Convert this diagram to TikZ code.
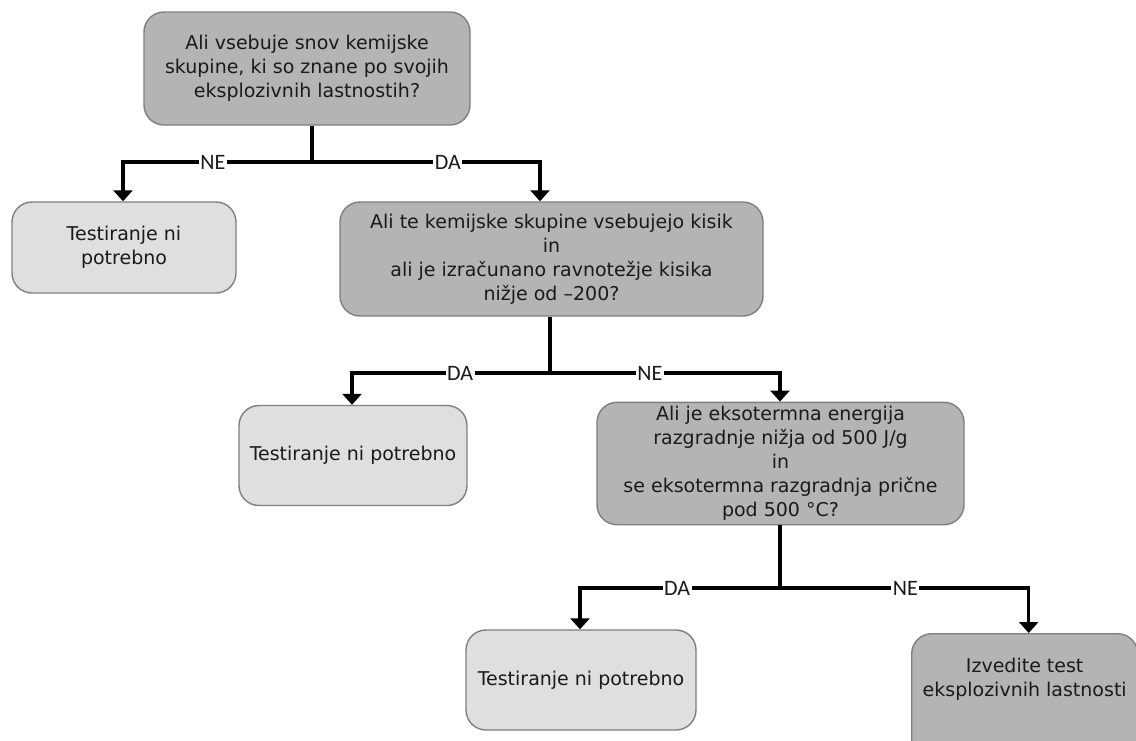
\documentclass[tikz,border=0pt]{standalone}
\usepackage{fontspec}
\setmainfont{DejaVu Sans}
\newfontfamily\labelfont{Carlito}
\usetikzlibrary{arrows.meta}

\definecolor{qfill}{HTML}{B4B4B4}
\definecolor{afill}{HTML}{DFDFDF}
\definecolor{edge}{HTML}{7F7F7F}
\definecolor{ink}{HTML}{1A1A1A}

\tikzset{
  boxbase/.style={draw=edge, line width=1.4pt, rounded corners=20pt, align=center,
    text=ink, font=\fontsize{19}{24}\selectfont, inner sep=4pt},
  question/.style={boxbase, fill=qfill},
  answer/.style={boxbase, fill=afill},
  flow/.style={line width=3.4pt, -{Triangle[width=19pt,length=11pt]}},
  trunk/.style={line width=3.4pt},
  branchlbl/.style={fill=white, inner sep=1.5pt, text=ink, font=\labelfont\fontsize{22}{24}\selectfont},
}

\begin{document}
\begin{tikzpicture}[x=1pt,y=-1pt]
  \useasboundingbox (0,0) rectangle (1136,740);
  \clip (0,0) rectangle (1136,740);

  % decision boxes
  \node[question, minimum width=326pt, minimum height=113pt] (b1) at (307,68.5)
    {Ali vsebuje snov kemijske\\skupine, ki so znane po svojih\\eksplozivnih lastnostih?};
  \node[answer, minimum width=224pt, minimum height=91pt] (b2) at (124,247.5)
    {Testiranje ni\\potrebno};
  \node[question, minimum width=423pt, minimum height=114pt] (b3) at (551.5,259)
    {Ali te kemijske skupine vsebujejo kisik\\in\\ali je izračunano ravnotežje kisika\\nižje od –200?};
  \node[answer, minimum width=228pt, minimum height=100pt] (b4) at (353,455.5)
    {Testiranje ni potrebno};
  \node[question, minimum width=367pt, minimum height=115pt] (b5) at (780.5,463.5)
    {Ali je eksotermna energija\\razgradnje nižja od 500 J/g\\in\\se eksotermna razgradnja prične\\pod 500 °C?};
  % the last box runs past the lower edge; its text sits near the top
  \node[question, minimum width=226pt, minimum height=130pt, anchor=north west] (b7) at (911,633)
    {Izvedite test\\eksplozivnih lastnosti\\[18pt]~};
  \node[answer, minimum width=230pt, minimum height=100pt] (b6) at (581,680)
    {Testiranje ni potrebno};

  % branch points
  \coordinate (j1) at (312,162);
  \coordinate (j2) at (550,373);
  \coordinate (j3) at (780,588);

  % first question
  \draw[trunk] ([xshift=5pt]b1.south) -- (j1);
  \draw[flow] (j1) -| node[branchlbl, pos=0.262] {NE} ([xshift=-1pt]b2.north);
  \draw[flow] (j1) -| node[branchlbl, pos=0.298] {DA} ([xshift=-11.5pt]b3.north);

  % second question
  \draw[trunk] ([xshift=-1.5pt]b3.south) -- (j2);
  \draw[flow] (j2) -| node[branchlbl, pos=0.227] {DA} ([xshift=-1pt]b4.north);
  \draw[flow] (j2) -| node[branchlbl, pos=0.217] {NE} ([xshift=-0.5pt]b5.north);

  % third question
  \draw[trunk] ([xshift=-0.5pt]b5.south) -- (j3);
  \draw[flow] (j3) -| node[branchlbl, pos=0.257] {DA} ([xshift=-1pt]b6.north);
  \draw[flow] (j3) -| node[branchlbl, pos=0.252] {NE} ([xshift=4pt]b7.north);
\end{tikzpicture}
\end{document}
